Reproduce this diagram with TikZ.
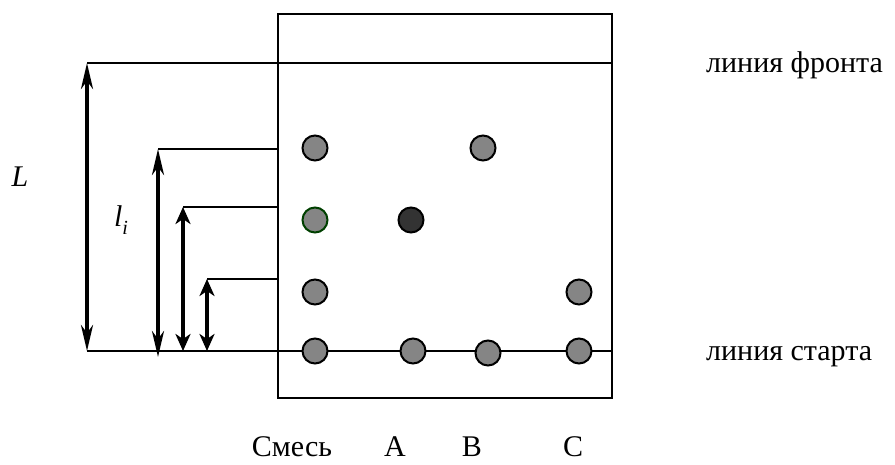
\documentclass[tikz,border=0pt]{standalone}
\usepackage{fontspec}
\setmainfont{Liberation Serif}
\usetikzlibrary{arrows.meta}
\begin{document}
\begin{tikzpicture}[x=1pt,y=-1pt,
  thin line/.style={line width=1.3pt},
  ref line/.style={line width=2.2pt},
  long arrow/.style={line width=3.6pt,{Stealth[length=26pt,width=12pt,inset=8pt]}-{Stealth[length=26pt,width=12pt,inset=8pt]}},
  short arrow/.style={line width=3.6pt,{Stealth[length=17pt,width=15pt,inset=5pt]}-{Stealth[length=17pt,width=15pt,inset=5pt]}},
  spot/.style={circle,draw=black,line width=2pt,fill=black!48,minimum size=25pt,inner sep=0pt},
  darkspot/.style={spot,fill=black!80},
  greenspot/.style={spot,draw=green!25!black},
  lbl/.style={font=\fontsize{30}{34}\selectfont,inner sep=0pt}]
\useasboundingbox (0,0) rectangle (895,464);
% plate
\draw[thin line] (278,14) rectangle (612,398);
% reference lines
\coordinate (fL) at (87,63);
\coordinate (fR) at (612,63);
\coordinate (sL) at (87,351);
\coordinate (sR) at (612,351);
\draw[ref line] (fL) -- (fR);
\draw[ref line] (sL) -- (sR);
% spots
\node[spot] (m1) at (315,148) {};
\node[greenspot] (m2) at (315,220) {};
\node[spot] (m3) at (315,292) {};
\node[spot] (m0) at (315,351) {};
\node[darkspot] (a1) at (411,220) {};
\node[spot] (a0) at (413,351) {};
\node[spot] (b1) at (483,148) {};
\node[spot] (b0) at (488,353) {};
\node[spot] (c1) at (579,292) {};
\node[spot] (c0) at (579,351) {};
% level lines
\coordinate (t1) at (158,149);
\coordinate (t2) at (183,207);
\coordinate (t3) at (207,279);
\coordinate (e1) at (278,149);
\coordinate (e2) at (278,207);
\coordinate (e3) at (278,279);
\draw[ref line] (t1) -- (e1);
\draw[ref line] (t2) -- (e2);
\draw[ref line] (t3) -- (e3);
\coordinate (b1s) at (158,357);
\coordinate (b2s) at (183,351);
\coordinate (b3s) at (207,351);
\draw[long arrow] (fL) -- (sL);
\draw[long arrow] (t1) -- (b1s);
\draw[short arrow] (t2) -- (b2s);
\draw[short arrow] (t3) -- (b3s);
% labels
\node[lbl] (L) at (20,177) {\textit{L}};
\node[lbl] (li) at (121,220) {\textit{l}\raisebox{-0.25em}{\fontsize{20}{22}\selectfont\textit{i}}};
\node[lbl,anchor=base west] (front) at (706,72) {линия фронта};
\node[lbl,anchor=base west] (start) at (706,360) {линия старта};
\node[lbl,anchor=base] (smes) at (292,456) {Смесь};
\node[lbl,anchor=base] (A) at (395,456) {A};
\node[lbl,anchor=base] (B) at (472,456) {B};
\node[lbl,anchor=base] (C) at (573,456) {C};
\end{tikzpicture}
\end{document}
